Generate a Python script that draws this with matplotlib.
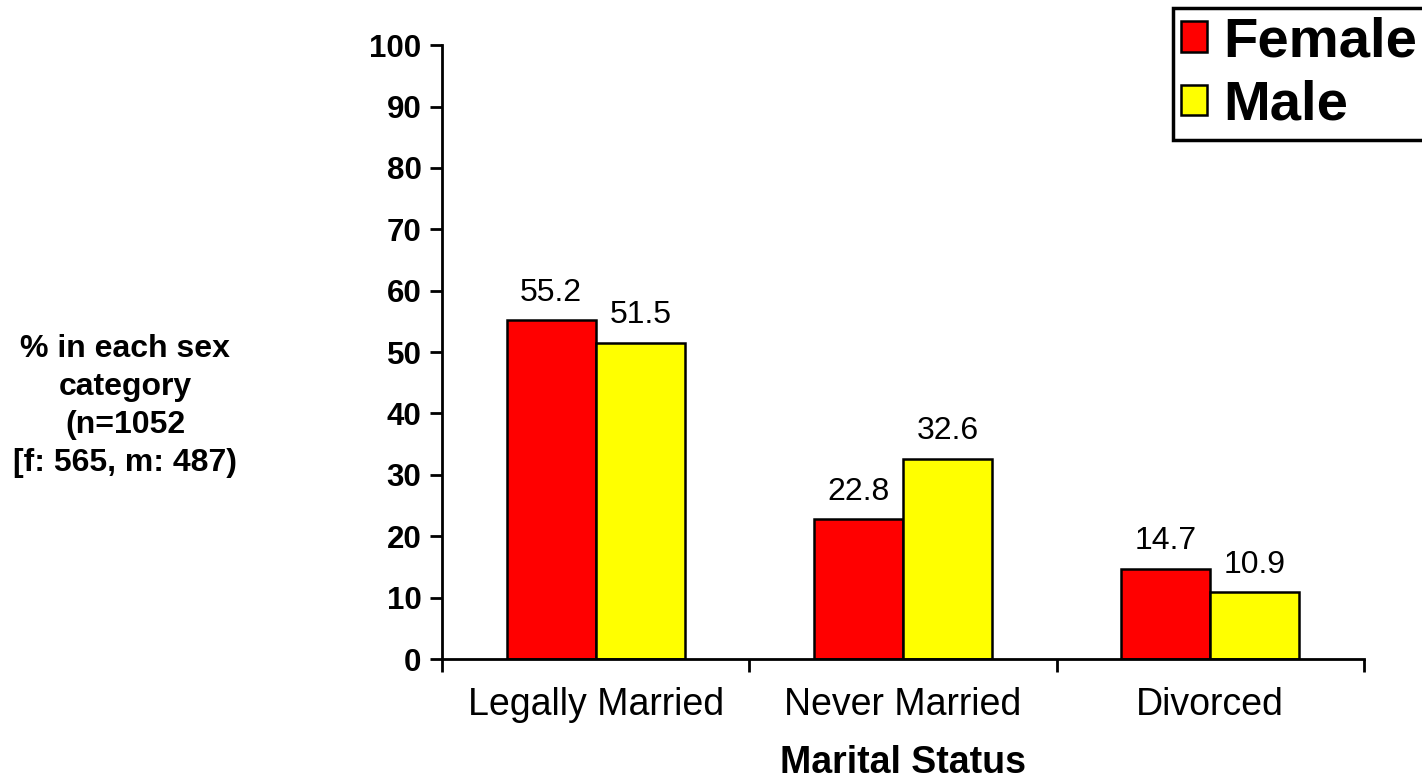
import matplotlib.pyplot as plt
import numpy as np

plt.rcParams['font.family'] = ['Liberation Sans', 'DejaVu Sans']

categories = ['Legally Married', 'Never Married', 'Divorced']
female = [55.2, 22.8, 14.7]
male = [51.5, 32.6, 10.9]
y_ticks = [0, 10, 20, 30, 40, 50, 60, 70, 80, 90, 100]

fig = plt.figure(figsize=(14.22, 7.79), dpi=100)
ax = fig.add_axes([0.311, 0.154, 0.648, 0.788])

x = np.arange(len(categories))
w = 0.29
bars_f = ax.bar(x - w / 2, female, w, color='#ff0000', edgecolor='black', linewidth=1.8, label='Female')
bars_m = ax.bar(x + w / 2, male, w, color='#ffff00', edgecolor='black', linewidth=1.8, label='Male')

# value labels above each bar
for bars, vals in [(bars_f, female), (bars_m, male)]:
    for b, v in zip(bars, vals):
        ax.annotate(f'{v:.1f}', (b.get_x() + b.get_width() / 2, v),
                    xytext=(0, 9), textcoords='offset points',
                    ha='center', va='bottom', fontsize=23)

ax.set_xlim(-0.5, 2.5)
ax.set_ylim(0, 100)
ax.set_yticks(y_ticks)
ax.set_yticklabels([str(t) for t in y_ticks], fontsize=22.5, fontweight='bold')
ax.set_xticks(x)
ax.set_xticklabels(categories, fontsize=27)
ax.set_xticks([-0.5, 0.5, 1.5, 2.5], minor=True)
ax.tick_params(axis='x', which='major', length=0, pad=20)
ax.tick_params(axis='x', which='minor', length=9, width=2, direction='out')
ax.tick_params(axis='y', length=9, width=2, direction='out', pad=6)

for s in ['top', 'right']:
    ax.spines[s].set_visible(False)
for s in ['left', 'bottom']:
    ax.spines[s].set_linewidth(2)

ax.set_xlabel('Marital Status', fontsize=27, fontweight='bold', labelpad=16)

fig.text(125 / 1422, 1 - 406 / 779,
         '% in each sex\ncategory\n(n=1052\n[f: 565, m: 487)',
         ha='center', va='center', multialignment='center',
         fontsize=23, fontweight='bold', linespacing=1.36)

leg = fig.legend(loc='upper left', bbox_to_anchor=(1173 / 1422, 1 - 8 / 779),
                 prop={'size': 40.5, 'weight': 'bold'}, frameon=True, fancybox=False,
                 framealpha=1, edgecolor='black',
                 handlelength=0.45, handleheight=0.45, handletextpad=0.3,
                 borderpad=0.15, labelspacing=0.2, borderaxespad=0)
leg.get_frame().set_linewidth(2.5)

fig.savefig('out.png', dpi=100)
